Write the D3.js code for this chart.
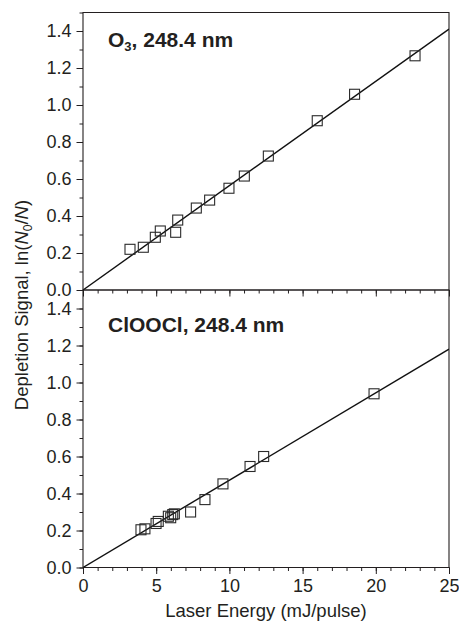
<!DOCTYPE html>
<html>
<head>
<meta charset="utf-8">
<script src="https://cdn.jsdelivr.net/npm/d3@7"></script>
<style>
  html, body { margin: 0; padding: 0; background: #fff; }
  svg { display: block; }
  text { font-family: "Liberation Sans", Arial, Helvetica, sans-serif; fill: #231f20; }
</style>
</head>
<body>
<svg id="chart" width="459" height="621"></svg>
<script>
// ---- data ----
const o3Energy = [3.21, 4.12, 4.94, 5.28, 6.33, 6.47, 7.74, 8.65, 9.97, 11.02, 12.66, 16.0, 18.55, 22.68];
const o3Signal = [0.220, 0.231, 0.285, 0.319, 0.312, 0.378, 0.443, 0.486, 0.550, 0.616, 0.724, 0.915, 1.058, 1.266];
const clEnergy = [3.96, 4.23, 4.99, 5.14, 5.83, 5.99, 6.13, 6.24, 7.35, 8.33, 9.56, 11.41, 12.34, 19.88];
const clSignal = [0.204, 0.209, 0.238, 0.249, 0.277, 0.269, 0.286, 0.290, 0.300, 0.367, 0.452, 0.546, 0.600, 0.939];
const fitEnergy = [0, 25];
const o3Fit = [0, 1.41];
const clFit = [0, 1.18];
const xTickValues = [0, 5, 10, 15, 20, 25];
const yTickValues = [0, 0.2, 0.4, 0.6, 0.8, 1.0, 1.2, 1.4];
const panelLabels = ["O3", "ClOOCl"];

// ---- layout ----
const svg = d3.select("#chart");
const left = 83, right = 449;
const panels = [
  { top: 12.5, bottom: 290, energy: o3Energy, signal: o3Signal, fit: o3Fit, label: panelLabels[0] },
  { top: 290, bottom: 567.5, energy: clEnergy, signal: clSignal, fit: clFit, label: panelLabels[1] }
];
const x = d3.scaleLinear().domain([0, 25]).range([left, right]);
const ink = "#231f20";
const tickFont = "18px";

panels.forEach((p, i) => {
  const y = d3.scaleLinear().domain([0, 1.5]).range([p.bottom, p.top]);
  const g = svg.append("g");
  const clipId = "clip" + i;
  svg.append("clipPath").attr("id", clipId).append("rect")
    .attr("x", left).attr("y", p.top).attr("width", right - left).attr("height", p.bottom - p.top);

  // minor y ticks
  const yMinor = d3.range(0, 16).map(v => v / 10);
  g.append("g").attr("transform", `translate(${left},0)`)
    .call(d3.axisLeft(y).tickValues(yMinor).tickSize(3.5).tickFormat(""))
    .call(a => a.select(".domain").remove())
    .call(a => a.selectAll("line").attr("stroke", ink).attr("stroke-width", 1));
  // major y ticks
  g.append("g").attr("transform", `translate(${left},0)`)
    .call(d3.axisLeft(y).tickValues(yTickValues).tickSize(6.5).tickPadding(5).tickFormat(d3.format(".1f")))
    .call(a => a.select(".domain").remove())
    .call(a => a.selectAll("line").attr("stroke", ink).attr("stroke-width", 1))
    .call(a => a.selectAll("text").attr("font-size", tickFont).attr("fill", ink)
      .attr("font-family", "Liberation Sans, Arial, sans-serif"));

  // x ticks (downward) at panel bottom
  const xMinor = d3.range(0, 26);
  g.append("g").attr("transform", `translate(0,${p.bottom})`)
    .call(d3.axisBottom(x).tickValues(xMinor).tickSize(3.5).tickFormat(""))
    .call(a => a.select(".domain").remove())
    .call(a => a.selectAll("line").attr("stroke", ink).attr("stroke-width", 1));
  g.append("g").attr("transform", `translate(0,${p.bottom})`)
    .call(d3.axisBottom(x).tickValues(xTickValues).tickSize(6.5).tickPadding(5)
      .tickFormat(i === 1 ? d3.format("d") : ""))
    .call(a => a.select(".domain").remove())
    .call(a => a.selectAll("line").attr("stroke", ink).attr("stroke-width", 1))
    .call(a => a.selectAll("text").attr("font-size", tickFont).attr("fill", ink)
      .attr("font-family", "Liberation Sans, Arial, sans-serif"));

  // frame
  g.append("path")
    .attr("d", `M${left},${p.top}H${right}V${p.bottom}H${left}Z`)
    .attr("fill", "none").attr("stroke", ink).attr("stroke-width", 1.1);

  // fit line
  const line = d3.line().x(d => x(d[0])).y(d => y(d[1]));
  g.append("path")
    .datum(fitEnergy.map((e, k) => [e, p.fit[k]]))
    .attr("d", line)
    .attr("clip-path", `url(#${clipId})`)
    .attr("fill", "none").attr("stroke", "#111").attr("stroke-width", 1.4);

  // markers
  const s = 10;
  g.selectAll("rect.pt").data(p.energy.map((e, k) => [e, p.signal[k]]))
    .join("rect").attr("class", "pt")
    .attr("x", d => x(d[0]) - s / 2).attr("y", d => y(d[1]) - s / 2)
    .attr("width", s).attr("height", s)
    .attr("fill", "none").attr("stroke", "#2a2a2a").attr("stroke-width", 1.1);

  // panel label
  const t = g.append("text")
    .attr("x", 108).attr("y", p.top + (i === 0 ? 34.5 : 41.5))
    .attr("font-size", "21px").attr("font-weight", "bold").attr("fill", ink);
  if (i === 0) {
    t.append("tspan").text("O");
    t.append("tspan").attr("font-size", "13px").attr("dy", 4).text("3");
    t.append("tspan").attr("dy", -4).text(", 248.4 nm");
  } else {
    t.text("ClOOCl, 248.4 nm");
  }
});

// axis titles
svg.append("text")
  .attr("x", (left + right) / 2).attr("y", 617)
  .attr("text-anchor", "middle").attr("font-size", "18.5px")
  .text("Laser Energy (mJ/pulse)");

const yl = svg.append("text")
  .attr("transform", "translate(28,305) rotate(-90)")
  .attr("text-anchor", "middle").attr("font-size", "18.5px");
yl.append("tspan").text("Depletion Signal, ln(");
yl.append("tspan").attr("font-style", "italic").text("N");
yl.append("tspan").attr("font-size", "12px").attr("dy", 4).text("0");
yl.append("tspan").attr("dy", -4).text("/");
yl.append("tspan").attr("font-style", "italic").text("N");
yl.append("tspan").text(")");
</script>
</body>
</html>
